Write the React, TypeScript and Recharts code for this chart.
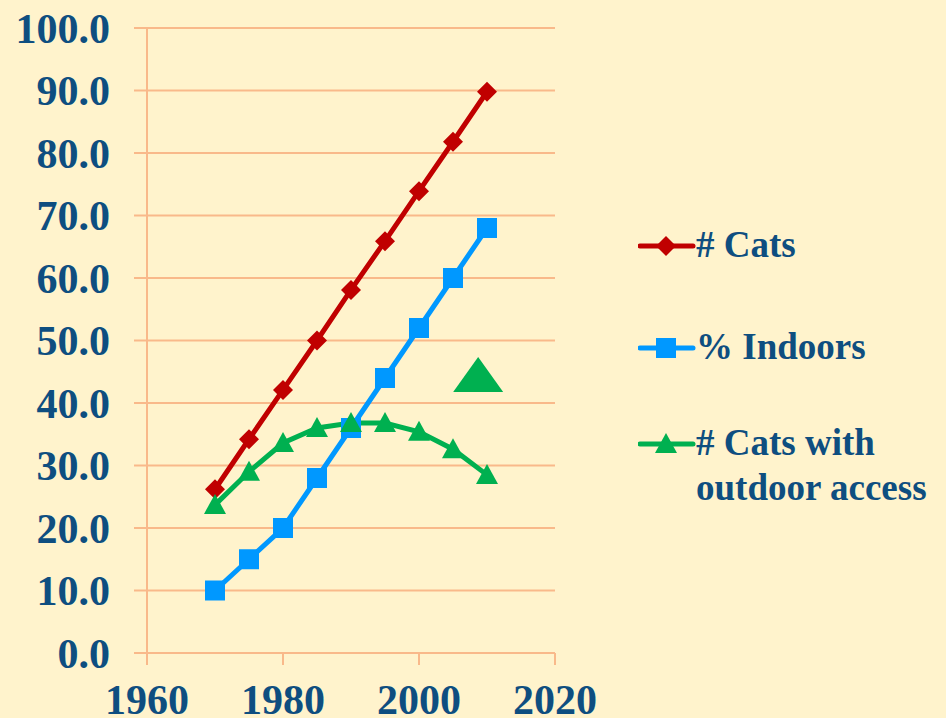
import React from "react"
import {
  ComposedChart,
  Line,
  Scatter,
  XAxis,
  YAxis,
  CartesianGrid,
} from "recharts"

const years = [1970, 1975, 1980, 1985, 1990, 1995, 2000, 2005, 2010]
const cats = [26.2, 34.2, 42.1, 50.0, 58.1, 65.9, 73.9, 81.8, 89.8]
const indoors = [10.0, 15.0, 20.0, 28.0, 36.0, 44.0, 52.0, 60.0, 68.0]
const outdoor = [23.7, 29.0, 33.6, 36.0, 36.8, 36.8, 35.4, 32.6, 28.5]

// the lone big triangle floating inside the plot
const bigTriangle = [{ year: 2008.7, value: 44.5 }]

const xTicks = [1960, 1980, 2000, 2020]
const yTicks = [0, 10, 20, 30, 40, 50, 60, 70, 80, 90, 100]

const data = years.map((year, i) => ({
  year,
  cats: cats[i],
  indoors: indoors[i],
  outdoor: outdoor[i],
}))

const BG = "#FFF3CC"
const GRID = "#F9B98A"
const TEXT = "#0E4E80"
const RED = "#C00000"
const BLUE = "#0098FF"
const GREEN = "#00B050"
const FONT = "Liberation Serif, Times New Roman, DejaVu Serif, serif"

const diamond = (p: any) => (
  <polygon
    key={`d-${p.index}`}
    points={`${p.cx},${p.cy - 10} ${p.cx + 10},${p.cy} ${p.cx},${p.cy + 10} ${p.cx - 10},${p.cy}`}
    fill={RED}
  />
)

const square = (p: any) => (
  <rect key={`s-${p.index}`} x={p.cx - 10} y={p.cy - 10} width={20} height={20} fill={BLUE} />
)

const triangle = (p: any) => (
  <polygon
    key={`t-${p.index}`}
    points={`${p.cx},${p.cy - 11} ${p.cx + 11},${p.cy + 9} ${p.cx - 11},${p.cy + 9}`}
    fill={GREEN}
  />
)

const bigTriangleShape = (p: any) => (
  <polygon
    points={`${p.cx},${p.cy - 18} ${p.cx + 25},${p.cy + 17} ${p.cx - 25},${p.cy + 17}`}
    fill={GREEN}
  />
)

const legendItems = [
  { label: ["# Cats"], color: RED, marker: "diamond", gap: 57 },
  { label: ["% Indoors"], color: BLUE, marker: "square", gap: 51 },
  { label: ["# Cats with", "outdoor access"], color: GREEN, marker: "triangle", gap: 0 },
]

function LegendIcon({ color, marker }: { color: string; marker: string }) {
  return (
    <svg width={58} height={45} style={{ display: "block", flexShrink: 0 }}>
      <line x1={2} y1={24} x2={55} y2={24} stroke={color} strokeWidth={5} strokeLinecap="round" />
      {marker === "diamond" && <polygon points="28,14 38,24 28,34 18,24" fill={color} />}
      {marker === "square" && <rect x={18} y={14} width={20} height={20} fill={color} />}
      {marker === "triangle" && <polygon points="28,13 39,33 17,33" fill={color} />}
    </svg>
  )
}

function ChartLegend() {
  return (
    <div
      style={{
        position: "absolute",
        left: 638,
        top: 222,
        fontFamily: FONT,
        fontWeight: "bold",
        color: TEXT,
        fontSize: 37,
      }}
    >
      {legendItems.map((item) => (
        <div key={item.label[0]} style={{ display: "flex", marginBottom: item.gap }}>
          <LegendIcon color={item.color} marker={item.marker} />
          <div style={{ lineHeight: "45px", whiteSpace: "nowrap" }}>
            {item.label.map((l) => (
              <div key={l}>{l}</div>
            ))}
          </div>
        </div>
      ))}
    </div>
  )
}

export default function App() {
  return (
    <div
      style={{
        position: "absolute",
        left: 0,
        top: 0,
        width: 946,
        height: 718,
        background: BG,
        overflow: "hidden",
      }}
    >
      <ComposedChart
        width={946}
        height={718}
        data={data}
        margin={{ top: 28, right: 391, left: 0, bottom: 0 }}
      >
        <CartesianGrid vertical={false} stroke={GRID} strokeWidth={2} />
        <XAxis
          dataKey="year"
          type="number"
          domain={[1960, 2020]}
          ticks={xTicks}
          height={65}
          tickSize={12}
          tickMargin={19}
          axisLine={false}
          tickLine={{ stroke: GRID, strokeWidth: 2 }}
          tick={{ fontSize: 42, fontWeight: "bold", fill: TEXT, fontFamily: FONT }}
        />
        <YAxis
          domain={[0, 100]}
          ticks={yTicks}
          interval={0}
          width={147}
          tickSize={13}
          tickMargin={24}
          axisLine={{ stroke: GRID, strokeWidth: 2 }}
          tickLine={{ stroke: GRID, strokeWidth: 2 }}
          tickFormatter={(v) => Number(v).toFixed(1)}
          tick={{ fontSize: 42, fontWeight: "bold", fill: TEXT, fontFamily: FONT }}
        />
        <Line
          type="linear"
          dataKey="cats"
          name="# Cats"
          stroke={RED}
          strokeWidth={5}
          dot={diamond}
          activeDot={false}
          isAnimationActive={false}
        />
        <Line
          type="linear"
          dataKey="indoors"
          name="% Indoors"
          stroke={BLUE}
          strokeWidth={5}
          dot={square}
          activeDot={false}
          isAnimationActive={false}
        />
        <Line
          type="linear"
          dataKey="outdoor"
          name="# Cats with outdoor access"
          stroke={GREEN}
          strokeWidth={5}
          dot={triangle}
          activeDot={false}
          isAnimationActive={false}
        />
        <Scatter
          data={bigTriangle}
          dataKey="value"
          shape={bigTriangleShape}
          legendType="none"
          isAnimationActive={false}
        />
      </ComposedChart>
      <ChartLegend />
    </div>
  )
}
